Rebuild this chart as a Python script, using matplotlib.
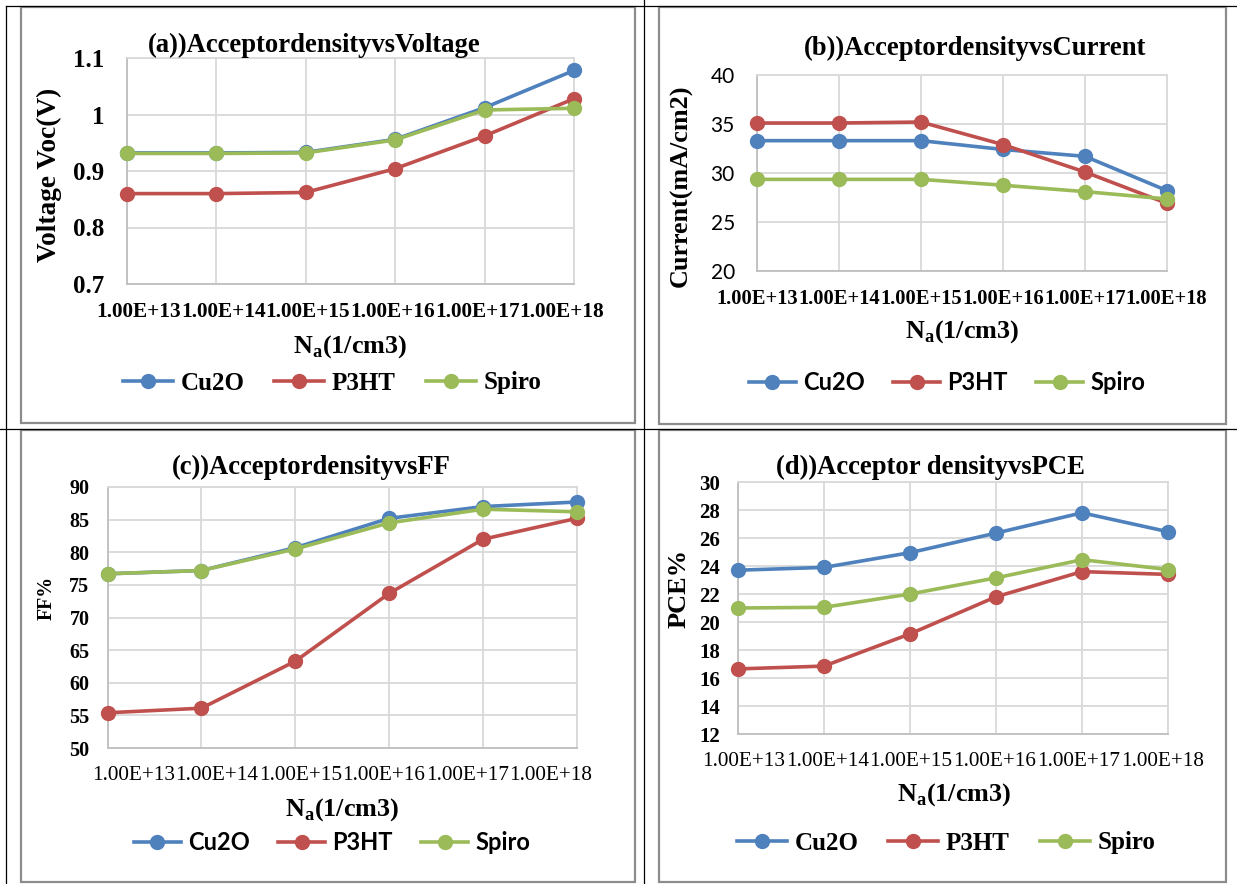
"""Four-panel chart: acceptor density vs Voc, Jsc, FF and PCE for three HTLs."""

import matplotlib
matplotlib.use("Agg")
import matplotlib.pyplot as plt
from matplotlib.patches import Rectangle
from matplotlib.lines import Line2D

W, H = 1237, 884
SERIF = "Liberation Serif"
SANS = "Lato"

# data
x_labels = ["1.00E+13", "1.00E+14", "1.00E+15", "1.00E+16", "1.00E+17", "1.00E+18"]
materials = ["Cu2O", "P3HT", "Spiro"]
colors = ["#4F81BD", "#C0504D", "#9BBB59"]

voc_cu2o = [0.932, 0.932, 0.933, 0.956, 1.012, 1.078]
voc_p3ht = [0.860, 0.860, 0.862, 0.904, 0.962, 1.028]
voc_spiro = [0.931, 0.931, 0.932, 0.955, 1.008, 1.011]

jsc_cu2o = [33.3, 33.3, 33.3, 32.4, 31.7, 28.2]
jsc_p3ht = [35.1, 35.1, 35.2, 32.9, 30.1, 26.9]
jsc_spiro = [29.35, 29.35, 29.35, 28.75, 28.1, 27.35]

ff_cu2o = [76.7, 77.2, 80.7, 85.2, 87.0, 87.7]
ff_p3ht = [55.4, 56.1, 63.3, 73.7, 82.0, 85.2]
ff_spiro = [76.7, 77.2, 80.5, 84.5, 86.6, 86.2]

pce_cu2o = [23.7, 23.9, 24.95, 26.35, 27.8, 26.45]
pce_p3ht = [16.65, 16.85, 19.15, 21.8, 23.6, 23.4]
pce_spiro = [21.0, 21.05, 22.0, 23.15, 24.45, 23.75]


def fx(x):
    return x / W


def fy(y):
    return 1 - y / H


def add_axes(fig, left, top, right, bottom):
    return fig.add_axes([fx(left), fy(bottom), (right - left) / W, (bottom - top) / H])


fig = plt.figure(figsize=(W / 100, H / 100), dpi=100)

# table borders (black) then chart frames (grey) on top
for xs_, ys_ in [((6, 6), (6, 884)), ((644, 644), (0, 884)), ((0, 1237), (429, 429)),
                 ((6, 1237), (6, 6))]:
    fig.add_artist(Line2D([fx(v) for v in xs_], [fy(v) for v in ys_],
                          transform=fig.transFigure, color="black", lw=0.9))
for x0, y0, x1, y1 in [(21, 7, 635, 423), (659, 7, 1226, 424),
                       (21, 430, 635, 882), (659, 430, 1226, 882)]:
    fig.add_artist(Rectangle((fx(x0), fy(y1)), (x1 - x0) / W, (y1 - y0) / H,
                             transform=fig.transFigure, fill=False,
                             edgecolor="#8C8C8C", lw=1.6))

# label_step: Excel squeezes the category labels so they run together
panels = [
    dict(box=(126.5, 58, 574, 284), series=[voc_cu2o, voc_p3ht, voc_spiro],
         ylim=(0.7, 1.1), step=0.1,
         ytick=dict(family=SERIF, weight="bold", size=18), ypad=16,
         xtick=dict(family=SERIF, weight="bold", size=15.3), label_step=84.7,
         title="(a))AcceptordensityvsVoltage", title_xy=(314, 45),
         ylabel="Voltage Voc(V)", ylabel_xy=(49, 175), ylabel_size=19.7,
         xlabel_xy=(350, 347),
         legend_xy=(332, 383), legend_font=dict(family=SERIF, weight="bold", size=18)),
    dict(box=(757, 75, 1167, 271), series=[jsc_cu2o, jsc_p3ht, jsc_spiro],
         ylim=(20, 40), step=5,
         ytick=dict(family=SANS, weight="normal", size=15), ypad=16,
         xtick=dict(family=SERIF, weight="bold", size=14.8), label_step=81.8,
         title="(b))AcceptordensityvsCurrent", title_xy=(975, 48),
         ylabel="Current(mA/cm2)", ylabel_xy=(681, 186), ylabel_size=18.8,
         xlabel_xy=(962, 332),
         legend_xy=(947, 383), legend_font=dict(family=SANS, weight="bold", size=17)),
    dict(box=(107.5, 487, 577, 748), series=[ff_cu2o, ff_p3ht, ff_spiro],
         ylim=(50, 90), step=5,
         ytick=dict(family=SERIF, weight="bold", size=14.5), ypad=13,
         xtick=dict(family=SERIF, weight="normal", size=15.3), label_step=83.5,
         title="(c))AcceptordensityvsFF", title_xy=(311, 467),
         ylabel="FF%", ylabel_xy=(47, 598), ylabel_size=14.3,
         xlabel_xy=(342, 810),
         legend_xy=(332, 843), legend_font=dict(family=SANS, weight="bold", size=17)),
    dict(box=(738, 482, 1168, 734), series=[pce_cu2o, pce_p3ht, pce_spiro],
         ylim=(12, 30), step=2,
         ytick=dict(family=SERIF, weight="bold", size=15), ypad=13,
         xtick=dict(family=SERIF, weight="normal", size=15.3), label_step=83.7,
         title="(d))Acceptor densityvsPCE", title_xy=(930, 467),
         ylabel="PCE%", ylabel_xy=(679, 588), ylabel_size=19,
         xlabel_xy=(954, 795),
         legend_xy=(946, 843), legend_font=dict(family=SERIF, weight="bold", size=18)),
]

xs = list(range(len(x_labels)))
mid = (len(x_labels) - 1) / 2

for p in panels:
    ax = add_axes(fig, *p["box"])
    handles = []
    for vals, name, c in zip(p["series"], materials, colors):
        (h,) = ax.plot(xs, vals, color=c, lw=2.6, marker="o", ms=10,
                       markerfacecolor=c, markeredgecolor=c, clip_on=False,
                       zorder=3, label=name)
        handles.append(h)

    lo, hi = p["ylim"]
    n = int(round((hi - lo) / p["step"]))
    yt = [lo + i * p["step"] for i in range(n + 1)]
    ax.set_ylim(lo, hi)
    ax.set_yticks(yt)
    ax.set_yticklabels(["{:g}".format(round(v, 2)) for v in yt], **p["ytick"])

    ax.set_xlim(0, len(x_labels) - 1)
    cat_step = (p["box"][2] - p["box"][0]) / (len(x_labels) - 1)
    squeeze = p["label_step"] / cat_step
    ax.set_xticks([mid + (i - mid) * squeeze for i in xs])
    ax.set_xticklabels(x_labels, **p["xtick"])
    ax.set_xticks(xs, minor=True)
    ax.tick_params(axis="both", which="both", length=0)
    ax.tick_params(axis="y", pad=p["ypad"])
    ax.tick_params(axis="x", pad=13)
    ax.grid(True, axis="y", which="major", color="#D9D9D9", lw=1.3)
    ax.grid(True, axis="x", which="minor", color="#D9D9D9", lw=1.3)
    ax.grid(False, axis="x", which="major")
    ax.set_axisbelow(True)
    for side, spine in ax.spines.items():
        spine.set_color("#BFBFBF" if side in ("left", "bottom") else "#D9D9D9")
        spine.set_linewidth(1.3)

    fig.text(fx(p["title_xy"][0]), fy(p["title_xy"][1]), p["title"],
             ha="center", va="center", family=SERIF, weight="bold", size=19.2)
    fig.text(fx(p["ylabel_xy"][0]), fy(p["ylabel_xy"][1]), p["ylabel"],
             ha="center", va="center", rotation=90, family=SERIF, weight="bold",
             size=p["ylabel_size"])
    fig.text(fx(p["xlabel_xy"][0]), fy(p["xlabel_xy"][1]),
             r"N$_\mathregular{a}$(1/cm3)", ha="center", va="center",
             family=SERIF, weight="bold", size=18.8)

    fig.legend(handles=handles, loc="center",
               bbox_to_anchor=(fx(p["legend_xy"][0]), fy(p["legend_xy"][1])),
               ncol=3, frameon=False, prop=p["legend_font"],
               handlelength=2.0, handletextpad=0.3, columnspacing=1.2,
               borderpad=0, borderaxespad=0)

fig.savefig("out.png", dpi=100)
